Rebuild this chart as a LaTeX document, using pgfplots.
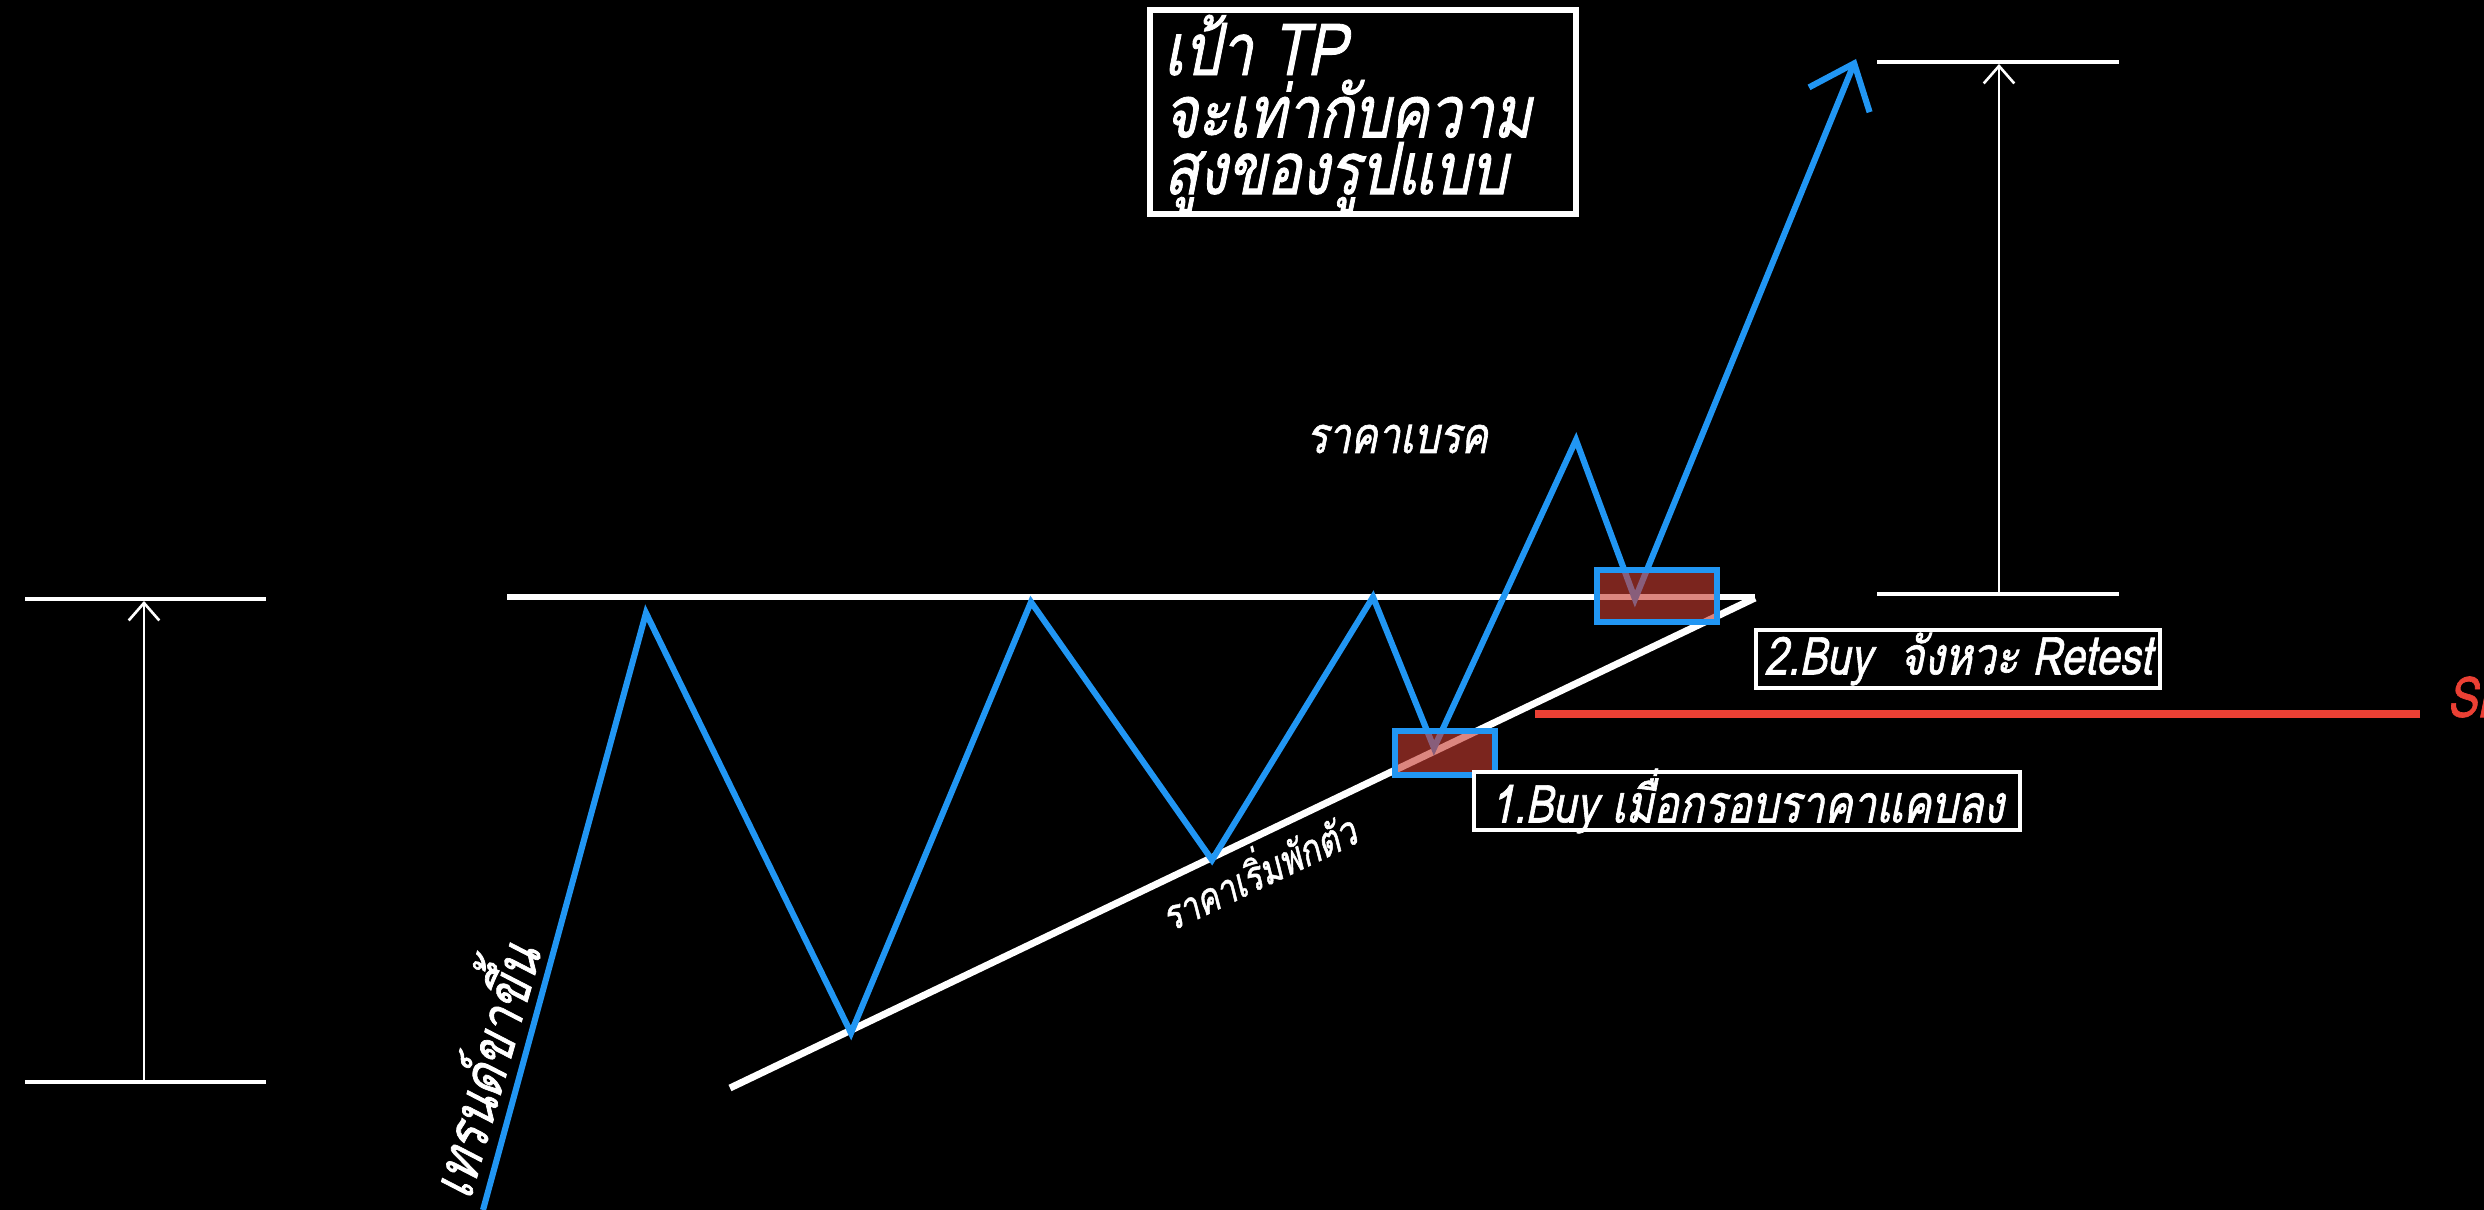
\documentclass[border=0pt]{standalone}
\usepackage{pgfplots}
\pgfplotsset{compat=1.18}
\usetikzlibrary{arrows.meta}
\usepackage{fontspec}
\newfontfamily\thaifont[Script=Thai,FakeStretch=0.8,FakeBold=1.2,FakeSlant=0.2]{Loma}
\definecolor{tblue}{RGB}{33,150,243}
\definecolor{boxred}{RGB}{200,60,50}
\definecolor{slred}{RGB}{235,64,52}
\begin{document}
\begin{tikzpicture}
\begin{axis}[
  at={(0,0)}, scale only axis, width=20cm, height=9.7424cm,
  xmin=0, xmax=2484, ymin=0, ymax=1210, y dir=reverse,
  hide axis, clip=false]
\fill[black] (axis cs:0,0) rectangle (axis cs:2484,1210);
\coordinate (A) at (axis cs:0,0);
\coordinate (B) at (axis cs:2484,1210);
% measure lines
\addplot[white, line width=0.8pt] coordinates {(25,599) (266,599)};
\addplot[white, line width=0.8pt] coordinates {(25,1082) (266,1082)};
\addplot[white, line width=0.6pt, -{Straight Barb[length=4pt,width=7pt]}] coordinates {(144,1082) (144,601)};
\addplot[white, line width=0.8pt] coordinates {(1877,62) (2119,62)};
\addplot[white, line width=0.8pt] coordinates {(1877,594) (2119,594)};
\addplot[white, line width=0.6pt, -{Straight Barb[length=4pt,width=7pt]}] coordinates {(1999,594) (1999,64)};
% triangle
\addplot[white, line width=1.6pt] coordinates {(507,597) (1755,597)};
\addplot[white, line width=1.6pt] coordinates {(730,1088) (1755,598)};
% SL
\addplot[slred, line width=1.8pt] coordinates {(1535,714) (2420,714)};
% price path
\addplot[tblue, line width=1.4pt, -{Straight Barb[length=9pt,width=15pt,line width=1.4pt]}] coordinates {(483,1210) (646,613) (851,1033) (1031,602) (1212,860) (1373,597) (1434,748) (1576,440) (1635,599) (1856,59)};
% buy zones
\addplot[draw=tblue, line width=1.4pt, fill=boxred, fill opacity=0.62] coordinates {(1395,731) (1495,731) (1495,775) (1395,775)} --cycle;
\addplot[draw=tblue, line width=1.4pt, fill=boxred, fill opacity=0.62] coordinates {(1597,570) (1717,570) (1717,622) (1597,622)} --cycle;
% text boxes
\draw[white, line width=1.2pt, fill=black] (axis cs:1150,10) rectangle (axis cs:1576,214);
\node[anchor=north west, align=left, text=white, inner sep=0pt, font=\thaifont\fontsize{16.5}{13}\selectfont] at (axis cs:1163,14) {เป้า TP\\จะเท่ากับความ\\สูงของรูปแบบ};
\node[text=white, font=\thaifont\fontsize{11.5}{13}\selectfont] at (axis cs:1397,439) {ราคาเบรค};
\draw[white, line width=0.8pt, fill=black] (axis cs:1756,630) rectangle (axis cs:2160,688);
\node[text=white, font=\thaifont\fontsize{12}{14}\selectfont] at (axis cs:1958,659) {2.Buy \ จังหวะ Retest};
\draw[white, line width=0.8pt, fill=black] (axis cs:1474,772) rectangle (axis cs:2020,830);
\node[text=white, font=\thaifont\fontsize{12}{14}\selectfont] at (axis cs:1747,801) {1.Buy เมื่อกรอบราคาแคบลง};
\node[text=white, rotate=25.5, font=\thaifont\fontsize{9.5}{11}\selectfont] at (axis cs:1256,868) {ราคาเริ่มพักตัว};
\node[text=white, rotate=74, font=\thaifont\fontsize{13.5}{15}\selectfont] at (axis cs:476,1068) {เทรนด์ขาขึ้น};
\node[anchor=west, text=slred, inner sep=0pt, font=\thaifont\fontsize{13}{15}\selectfont] at (axis cs:2446,697) {SL};
\end{axis}
\pgfresetboundingbox
\useasboundingbox (A) rectangle (B);
\end{tikzpicture}
\end{document}
